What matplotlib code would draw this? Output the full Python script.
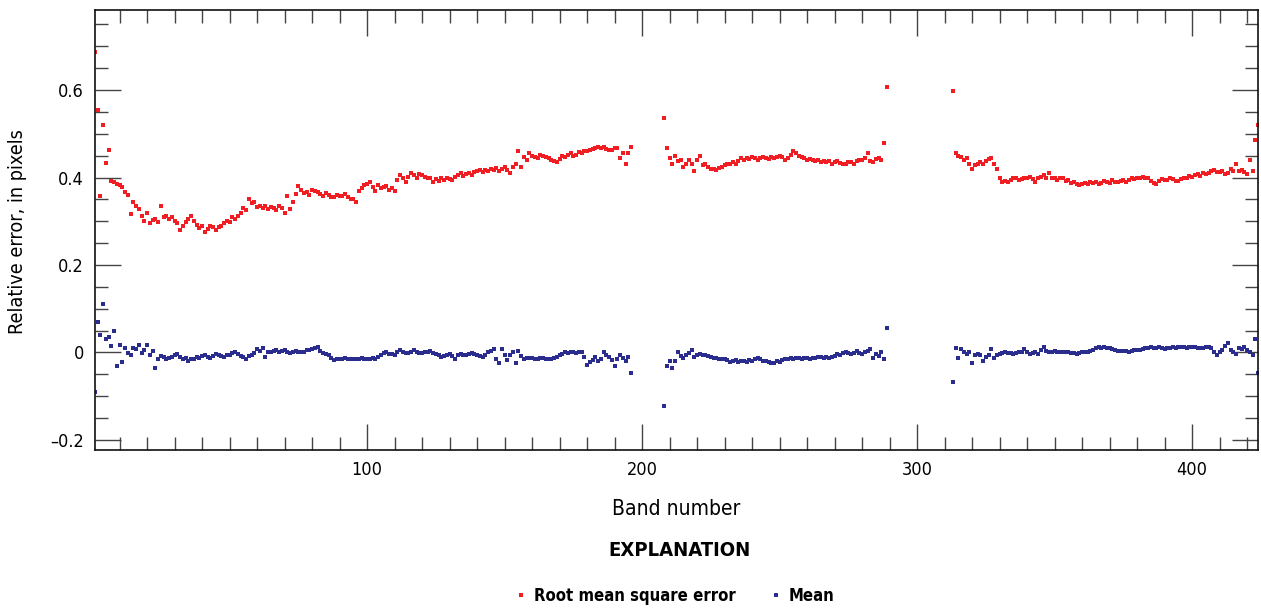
import numpy as np
import matplotlib
matplotlib.use("Agg")
import matplotlib.pyplot as plt
from matplotlib import font_manager as fm
from matplotlib.ticker import MultipleLocator, FixedLocator, FixedFormatter

# ---------------- data ----------------
bands_a = list(range(1, 197))
bands_b = list(range(208, 290))
bands_c = list(range(313, 425))

rmse_a = [0.686, 0.555, 0.357, 0.520, 0.434, 0.464, 0.392, 0.390, 0.386, 0.383,
          0.378, 0.366, 0.360, 0.316, 0.345, 0.335, 0.327, 0.312, 0.300, 0.320,
          0.297, 0.303, 0.305, 0.298, 0.334, 0.310, 0.312, 0.305, 0.310, 0.300,
          0.295, 0.280, 0.290, 0.298, 0.305, 0.312, 0.300, 0.292, 0.285, 0.290,
          0.275, 0.282, 0.290, 0.288, 0.280, 0.286, 0.290, 0.295, 0.300, 0.298,
          0.310, 0.305, 0.312, 0.318, 0.330, 0.325, 0.350, 0.342, 0.345, 0.332,
          0.335, 0.330, 0.334, 0.328, 0.332, 0.330, 0.326, 0.335, 0.330, 0.320,
          0.357, 0.327, 0.345, 0.362, 0.380, 0.372, 0.365, 0.368, 0.360, 0.372,
          0.370, 0.368, 0.362, 0.358, 0.365, 0.360, 0.356, 0.355, 0.360, 0.358,
          0.357, 0.362, 0.355, 0.352, 0.350, 0.345, 0.370, 0.375, 0.382, 0.385,
          0.390, 0.378, 0.370, 0.382, 0.375, 0.378, 0.380, 0.372, 0.376, 0.370,
          0.395, 0.405, 0.398, 0.390, 0.402, 0.410, 0.405, 0.400, 0.408, 0.405,
          0.402, 0.398, 0.400, 0.390, 0.396, 0.392, 0.398, 0.395, 0.400, 0.397,
          0.395, 0.402, 0.406, 0.410, 0.404, 0.408, 0.410, 0.406, 0.412, 0.414,
          0.417, 0.412, 0.418, 0.415, 0.420, 0.418, 0.422, 0.416, 0.420, 0.424,
          0.418, 0.410, 0.425, 0.430, 0.460, 0.425, 0.448, 0.440, 0.455, 0.450,
          0.446, 0.445, 0.452, 0.450, 0.448, 0.445, 0.440, 0.438, 0.435, 0.442,
          0.450, 0.448, 0.452, 0.455, 0.450, 0.452, 0.458, 0.455, 0.460, 0.460,
          0.462, 0.465, 0.468, 0.470, 0.468, 0.470, 0.466, 0.464, 0.463, 0.468,
          0.467, 0.445, 0.455, 0.430, 0.455, 0.470]
rmse_b = [0.537, 0.468, 0.445, 0.430, 0.450, 0.438, 0.440, 0.425, 0.432, 0.440,
          0.430, 0.415, 0.440, 0.450, 0.428, 0.430, 0.425, 0.420, 0.420, 0.418,
          0.422, 0.425, 0.428, 0.430, 0.432, 0.435, 0.432, 0.438, 0.445, 0.440,
          0.445, 0.442, 0.446, 0.445, 0.440, 0.445, 0.448, 0.445, 0.442, 0.447,
          0.444, 0.448, 0.450, 0.446, 0.440, 0.445, 0.452, 0.460, 0.455, 0.450,
          0.448, 0.445, 0.440, 0.442, 0.440, 0.438, 0.440, 0.436, 0.438, 0.435,
          0.437, 0.432, 0.435, 0.438, 0.434, 0.432, 0.430, 0.435, 0.435, 0.432,
          0.438, 0.440, 0.440, 0.445, 0.455, 0.438, 0.435, 0.442, 0.445, 0.440,
          0.480, 0.608]
rmse_c = [0.597, 0.457, 0.450, 0.447, 0.440, 0.445, 0.432, 0.420, 0.428, 0.430,
          0.436, 0.430, 0.438, 0.442, 0.445, 0.430, 0.420, 0.400, 0.390, 0.392,
          0.390, 0.395, 0.398, 0.400, 0.394, 0.396, 0.398, 0.400, 0.402, 0.396,
          0.390, 0.398, 0.402, 0.405, 0.398, 0.410, 0.400, 0.400, 0.395, 0.398,
          0.398, 0.392, 0.395, 0.388, 0.390, 0.385, 0.382, 0.385, 0.388, 0.386,
          0.390, 0.388, 0.390, 0.385, 0.388, 0.392, 0.390, 0.388, 0.394, 0.390,
          0.390, 0.392, 0.394, 0.390, 0.395, 0.398, 0.396, 0.400, 0.398, 0.402,
          0.400, 0.398, 0.392, 0.388, 0.385, 0.392, 0.396, 0.394, 0.395, 0.400,
          0.396, 0.392, 0.392, 0.396, 0.400, 0.400, 0.404, 0.402, 0.406, 0.407,
          0.404, 0.410, 0.408, 0.410, 0.414, 0.418, 0.412, 0.412, 0.416, 0.408,
          0.410, 0.420, 0.415, 0.430, 0.415, 0.418, 0.412, 0.408, 0.440, 0.415,
          0.485, 0.520]

mean_a = [-0.090, 0.070, 0.040, 0.110, 0.030, 0.035, 0.014, 0.048, -0.032, 0.018,
          -0.022, 0.010, -0.002, -0.005, 0.010, 0.008, 0.016, -0.002, 0.005, 0.018,
          -0.005, 0.003, -0.035, -0.016, -0.008, -0.010, -0.015, -0.012, -0.010, -0.006,
          -0.003, -0.010, -0.015, -0.012, -0.020, -0.014, -0.015, -0.010, -0.012, -0.008,
          -0.006, -0.010, -0.012, -0.008, -0.004, -0.005, -0.008, -0.010, -0.006, -0.005,
          -0.002, 0.002, -0.004, -0.007, -0.010, -0.015, -0.008, -0.005, -0.002, 0.008,
          0.004, 0.010, -0.010, 0.002, 0.000, 0.004, 0.005, 0.002, 0.003, 0.005,
          0.000, -0.002, 0.002, 0.004, 0.002, 0.000, 0.002, 0.006, 0.005, 0.008,
          0.010, 0.012, 0.003, -0.002, -0.004, -0.005, -0.012, -0.018, -0.016, -0.015,
          -0.015, -0.013, -0.016, -0.015, -0.014, -0.015, -0.016, -0.013, -0.015, -0.015,
          -0.014, -0.012, -0.015, -0.010, -0.006, -0.002, 0.002, -0.003, -0.004, -0.006,
          0.000, 0.005, 0.002, -0.002, -0.002, 0.002, 0.005, 0.000, -0.002, -0.002,
          0.000, 0.000, 0.003, -0.001, -0.003, -0.006, -0.010, -0.008, -0.005, -0.003,
          -0.008, -0.015, -0.006, -0.003, -0.005, -0.006, -0.004, -0.002, -0.003, -0.006,
          -0.008, -0.010, -0.005, 0.000, 0.004, 0.007, -0.015, -0.024, 0.007, -0.005,
          -0.018, -0.005, 0.000, -0.024, 0.003, -0.008, -0.015, -0.012, -0.013, -0.012,
          -0.014, -0.015, -0.013, -0.012, -0.014, -0.016, -0.015, -0.012, -0.010, -0.006,
          -0.003, 0.000, -0.001, 0.000, 0.000, -0.002, 0.000, 0.001, -0.010, -0.028,
          -0.022, -0.018, -0.010, -0.020, -0.014, 0.000, -0.005, -0.010, -0.018, -0.030,
          -0.015, -0.006, -0.013, -0.020, -0.010, -0.046]
mean_b = [-0.123, -0.030, -0.020, -0.035, -0.020, 0.000, -0.008, -0.013, -0.006, -0.002,
          0.006, -0.010, -0.005, -0.003, -0.005, -0.006, -0.008, -0.010, -0.012, -0.013,
          -0.014, -0.015, -0.016, -0.018, -0.022, -0.020, -0.018, -0.022, -0.020, -0.019,
          -0.022, -0.018, -0.019, -0.016, -0.013, -0.015, -0.020, -0.019, -0.022, -0.025,
          -0.023, -0.020, -0.022, -0.018, -0.016, -0.015, -0.013, -0.014, -0.012, -0.013,
          -0.014, -0.013, -0.012, -0.014, -0.013, -0.012, -0.010, -0.011, -0.013, -0.010,
          -0.012, -0.010, -0.008, -0.003, -0.005, -0.002, 0.000, -0.002, -0.003, -0.001,
          0.003, -0.002, -0.003, 0.000, 0.003, 0.007, -0.013, -0.003, -0.008, 0.000,
          -0.016, 0.057]
mean_c = [-0.068, 0.010, -0.013, 0.007, 0.002, -0.003, 0.000, -0.025, -0.005, -0.003,
          -0.006, -0.019, -0.010, -0.005, 0.007, -0.013, -0.006, -0.003, -0.002, 0.000,
          -0.001, -0.002, -0.003, -0.001, 0.000, 0.002, 0.007, 0.002, -0.003, -0.001,
          0.000, -0.003, 0.005, 0.013, 0.004, 0.000, 0.002, 0.003, 0.001, 0.002,
          0.000, 0.001, 0.000, -0.001, -0.002, -0.003, -0.001, 0.000, 0.002, 0.002,
          0.003, 0.006, 0.010, 0.012, 0.010, 0.012, 0.010, 0.010, 0.008, 0.006,
          0.004, 0.003, 0.004, 0.003, 0.002, 0.003, 0.005, 0.006, 0.006, 0.008,
          0.010, 0.011, 0.013, 0.011, 0.010, 0.012, 0.010, 0.008, 0.010, 0.010,
          0.012, 0.010, 0.013, 0.013, 0.012, 0.010, 0.013, 0.013, 0.012, 0.011,
          0.010, 0.010, 0.012, 0.013, 0.010, 0.002, -0.006, 0.000, 0.006, 0.015,
          0.022, 0.006, 0.000, -0.004, 0.010, 0.008, 0.013, 0.005, 0.000, -0.006,
          0.030, -0.046]

y_ticks = [-0.2, 0.0, 0.2, 0.4, 0.6]
y_tick_labels = ["\u20130.2", "0", "0.2", "0.4", "0.6"]
x_ticks = [100, 200, 300, 400]
x_tick_labels = ["100", "200", "300", "400"]

RED = "#F01E23"
BLUE = "#2B2D8E"

# ---------------- fonts ----------------
names = {f.name for f in fm.fontManager.ttflist}
if "Liberation Sans Narrow" in names:
    FONT = dict(family="Liberation Sans Narrow")
else:
    FONT = dict(family="DejaVu Sans", stretch="condensed")

# ---------------- figure ----------------
fig = plt.figure(figsize=(12.61, 6.10), dpi=100)
ax = fig.add_axes([95 / 1261, 1 - 450 / 610, (1258 - 95) / 1261, 440 / 610])

bands = bands_a + bands_b + bands_c
rmse = rmse_a + rmse_b + rmse_c
mean = mean_a + mean_b + mean_c

ax.plot(bands, rmse, linestyle="none", marker="s", ms=3.2, mew=0,
        color=RED, label="Root mean square error", clip_on=True)
ax.plot(bands, mean, linestyle="none", marker="s", ms=3.2, mew=0,
        color=BLUE, label="Mean", clip_on=True)

ax.set_xlim(1, 424)
ax.set_ylim(-0.223, 0.783)

ax.xaxis.set_major_locator(FixedLocator(x_ticks))
ax.xaxis.set_major_formatter(FixedFormatter(x_tick_labels))
ax.xaxis.set_minor_locator(MultipleLocator(10))
ax.yaxis.set_major_locator(FixedLocator(y_ticks))
ax.yaxis.set_major_formatter(FixedFormatter(y_tick_labels))
ax.yaxis.set_minor_locator(MultipleLocator(0.05))

ax.tick_params(which="both", direction="in", top=True, right=True,
               color="#444444")
ax.tick_params(which="major", length=19, width=1.0, labelsize=13, pad=8)
ax.tick_params(which="minor", length=9.5, width=1.0)
for lab in ax.get_xticklabels() + ax.get_yticklabels():
    lab.set(**FONT)
for sp in ax.spines.values():
    sp.set_linewidth(1.2)
    sp.set_color("#111111")

ax.set_xlabel("Band number", fontsize=15, labelpad=14, **FONT)
fig.text(18 / 1261, 1 - 232 / 610, "Relative error, in pixels", rotation=90,
         ha="center", va="center", fontsize=14.2, **FONT)

fig.text(679 / 1261, 1 - 551 / 610, "EXPLANATION", ha="center", va="center",
         fontsize=14.5, fontweight="bold", **FONT)

leg = fig.legend(loc="center", bbox_to_anchor=(676 / 1261, 1 - 596 / 610),
                 ncol=2, frameon=False, markerscale=1.0, handlelength=0.5,
                 handletextpad=0.5, columnspacing=2.2,
                 prop=dict(size=12, weight="bold", **FONT))

fig.savefig("out.png", dpi=100)
